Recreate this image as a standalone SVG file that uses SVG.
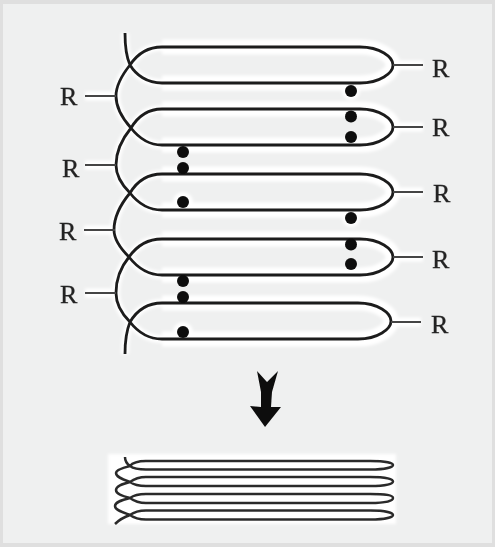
<svg xmlns="http://www.w3.org/2000/svg" width="495" height="547" viewBox="0 0 495 547">
<defs>
<style>
.halo{fill:none;stroke:#fff;stroke-width:15}
.w{fill:none;stroke:#1c1c1c;stroke-width:2.8}
.l{fill:none;stroke:#444;stroke-width:2.2}
.d{fill:#0a0a0a}
.f{fill:none;stroke:#2c2c2c;stroke-width:2.5}
.dh{fill:#fff}
text{font-family:"Liberation Serif",serif;font-size:26px;fill:#222;stroke:#222;stroke-width:.3}
</style>
<path id="loop" d="M162 0H360C380 0 393 10 393 18S380 36 360 36H162"/>
<path id="loop5" d="M162 0H358C378 0 391 10 391 18S378 36 358 36H162"/>
<path id="left" d="M125 33C125 45 126 56 130 65C136 75 147 83 162 83M162 47C146 47 136 56 130 65C122 75 116 85 116 96C116 107 122 118 131 128C138 137 147 145 162 145M162 109C146 109 137 118 131 128C122 139 116 152 116 165C116 175 121 184 130 193C137 202 147 210 162 210M162 174C146 174 136 183 130 193C120 205 114 218 114 230C114 239 120 248 129 257C136 266 147 275 162 275M162 239C146 239 136 247 129 257C120 268 116 281 116 293C116 303 121 313 130 322C137 331 147 339 162 339M162 303C146 303 136 312 130 322C126 332 125 342 125 354"/>
<filter id="b" x="-10%" y="-10%" width="120%" height="120%"><feGaussianBlur stdDeviation="1.6"/></filter>
<filter id="s" x="-2%" y="-2%" width="104%" height="104%"><feGaussianBlur stdDeviation="0.45"/></filter>
</defs>
<rect width="495" height="547" fill="#dfdfdf"/>
<rect x="3" y="4" width="489" height="539" fill="#eff0f0"/>
<g filter="url(#b)">
<use href="#loop" y="47" class="halo"/><use href="#loop" y="109" class="halo"/><use href="#loop" y="174" class="halo"/><use href="#loop" y="239" class="halo"/><use href="#loop5" y="303" class="halo"/>
<use href="#left" class="halo" style="stroke-width:8"/>
<path class="halo" style="stroke-width:9" d="M85 96H116M85 165H116M84 230H115M85 293H116M393 65H423M393 127H423M393 192H423M393 257H423M391 322H421"/>
<circle class="dh" cx="183" cy="202" r="10"/><circle class="dh" cx="183" cy="332" r="10"/><circle class="dh" cx="351" cy="91" r="9"/><circle class="dh" cx="351" cy="218" r="9"/>
<rect x="108" y="454" width="288" height="70" fill="#fff"/>
</g>
<g filter="url(#s)">
<g id="connectors">
<use href="#left" class="w"/>
<use href="#loop" y="47" class="w"/><use href="#loop" y="109" class="w"/><use href="#loop" y="174" class="w"/><use href="#loop" y="239" class="w"/><use href="#loop5" y="303" class="w"/>
<path class="l" d="M85 96H116M85 165H116M84 230H115M85 293H116M393 65H423M393 127H423M393 192H423M393 257H423M391 322H421"/>
</g>
<g id="collapsed">
<path class="f" d="M125 457C125 461 127 464 130 466C134 469 139 469.500 146 469.500H370C386 469.500 393 467 393 465S386 461 370 461H146C138 461 133 462 130 466C122 468 116 470 116 473C116 477 122 479 130 482C134 485 139 486 146 486H370C386 486 393 484 393 481.500S386 477 370 477H146C138 477 134 479 130 482C122 484 116 486 116 490C116 494 122 496 130 498C134 501 139 503 146 503H370C386 503 393 501 393 498S386 494 370 494H146C138 494 134 495 130 498C122 500 115 502 115 506C115 510 122 512 130 515C134 518 139 519.500 146 519.500H370C386 519.500 393 517 393 515S386 510.500 370 510.500H146C138 510.500 134 512 130 515C124 517 119 520 115 524"/>
</g>
<g id="arrow">
<path d="M257 371L267 382L278 371L272 392L271 407H281L265 427L250 406L261 407L261 392Z" fill="#111"/>
</g>
<g id="dots">
<circle class="d" cx="351" cy="91" r="6"/><circle class="d" cx="351" cy="116.500" r="6"/><circle class="d" cx="351" cy="137" r="6"/>
<circle class="d" cx="183" cy="152" r="6"/><circle class="d" cx="183" cy="168" r="6"/><circle class="d" cx="183" cy="202" r="6"/>
<circle class="d" cx="351" cy="218" r="6"/><circle class="d" cx="351" cy="244.500" r="6"/><circle class="d" cx="351" cy="264" r="6"/>
<circle class="d" cx="183" cy="281" r="6"/><circle class="d" cx="183" cy="297" r="6"/><circle class="d" cx="183" cy="332" r="6"/>
</g>
<g id="labels">
<text x="60" y="105">R</text><text x="62" y="177">R</text><text x="59" y="240">R</text><text x="60" y="303">R</text>
<text x="432" y="77">R</text><text x="432" y="136">R</text><text x="433" y="202">R</text><text x="432" y="268">R</text><text x="431" y="333">R</text>
</g>
</g>
</svg>
